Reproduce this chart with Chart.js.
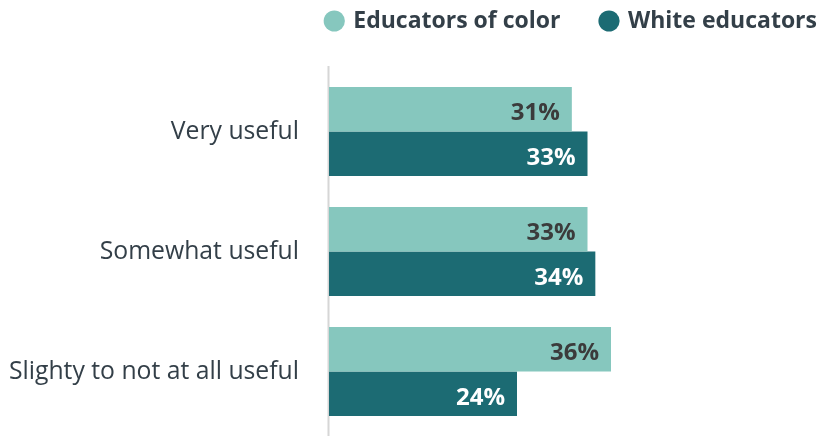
<!DOCTYPE html>
<html>
<head>
<meta charset="utf-8">
<script src="https://cdn.jsdelivr.net/npm/chart.js@4/dist/chart.umd.min.js"></script>
<style>
  html, body { margin: 0; padding: 0; background: #ffffff; }
  canvas { display: block; }
</style>
</head>
<body>
<canvas id="chart" width="823" height="436"></canvas>
<script>
// Survey answers: how useful educators found it, by group (percent)
const categories = ['Very useful', 'Somewhat useful', 'Slighty to not at all useful'];
const seriesNames = ['Educators of color', 'White educators'];
const educatorsOfColor = [31, 33, 36];
const whiteEducators = [33, 34, 24];

const barColors = ['#86c7be', '#1c6b73'];
const valueTextColors = ['#3b3b3b', '#ffffff'];
const inkColor = '#333f48';
const fontFamily = "'Open Sans', sans-serif";

Chart.defaults.font.family = fontFamily;
Chart.defaults.color = inkColor;

// Keeps the legend on one line at the top right, with a band of space below it
const legendPlacement = {
  id: 'legendPlacement',
  beforeInit(chart) {
    const legend = chart.legend;
    const baseFit = legend.fit;
    legend.fit = function () {
      baseFit.call(this);
      this.height = 71.5;
    };
  },
  afterLayout(chart) {
    const legend = chart.legend;
    legend.top -= 31.5;
    legend.bottom -= 31.5;
    legend.left += 59;
    legend.right += 59;
  }
};

// Vertical baseline of the value axis, a little taller than the plot area
const zeroLine = {
  id: 'zeroLine',
  beforeDatasetsDraw(chart) {
    const { ctx, chartArea } = chart;
    const x = chart.scales.x.getPixelForValue(0) - 0.5;
    ctx.save();
    ctx.strokeStyle = '#d6d6d6';
    ctx.lineWidth = 2;
    ctx.beginPath();
    ctx.moveTo(x, chartArea.top - 5.5);
    ctx.lineTo(x, chartArea.bottom + 4.5);
    ctx.stroke();
    ctx.restore();
  }
};

// Percent labels inside the end of each bar
const valueLabels = {
  id: 'valueLabels',
  afterDatasetsDraw(chart) {
    const ctx = chart.ctx;
    ctx.save();
    ctx.font = "700 24px " + fontFamily;
    ctx.textAlign = 'right';
    ctx.textBaseline = 'alphabetic';
    chart.data.datasets.forEach((ds, i) => {
      ctx.fillStyle = valueTextColors[i];
      chart.getDatasetMeta(i).data.forEach((bar, j) => {
        ctx.fillText(ds.data[j] + '%', bar.x - 12, bar.y + 11);
      });
    });
    ctx.restore();
  }
};

new Chart(document.getElementById('chart'), {
  type: 'bar',
  data: {
    labels: categories,
    datasets: [
      { label: seriesNames[0], data: educatorsOfColor, backgroundColor: barColors[0] },
      { label: seriesNames[1], data: whiteEducators, backgroundColor: barColors[1] }
    ]
  },
  options: {
    indexAxis: 'y',
    responsive: false,
    animation: false,
    events: [],
    layout: { padding: { top: 0, right: 24, bottom: 4.5, left: 0 } },
    datasets: {
      bar: { categoryPercentage: 0.742, barPercentage: 1, borderWidth: 0 }
    },
    scales: {
      x: {
        display: false,
        min: 0,
        max: 60
      },
      y: {
        grid: { display: false, drawTicks: false },
        border: { display: false },
        ticks: {
          padding: 30,
          color: inkColor,
          font: { size: 24.75, weight: '400' }
        },
        afterFit(scale) {
          scale.width = 329;
          scale.paddingTop = 0;
          scale.paddingBottom = 0;
        }
      }
    },
    plugins: {
      legend: {
        position: 'top',
        align: 'end',
        labels: {
          usePointStyle: true,
          pointStyle: 'circle',
          boxWidth: 15,
          boxHeight: 15,
          padding: 41,
          color: inkColor,
          font: { size: 23, weight: '700' }
        }
      },
      tooltip: { enabled: false }
    }
  },
  plugins: [legendPlacement, zeroLine, valueLabels]
});
</script>
</body>
</html>
